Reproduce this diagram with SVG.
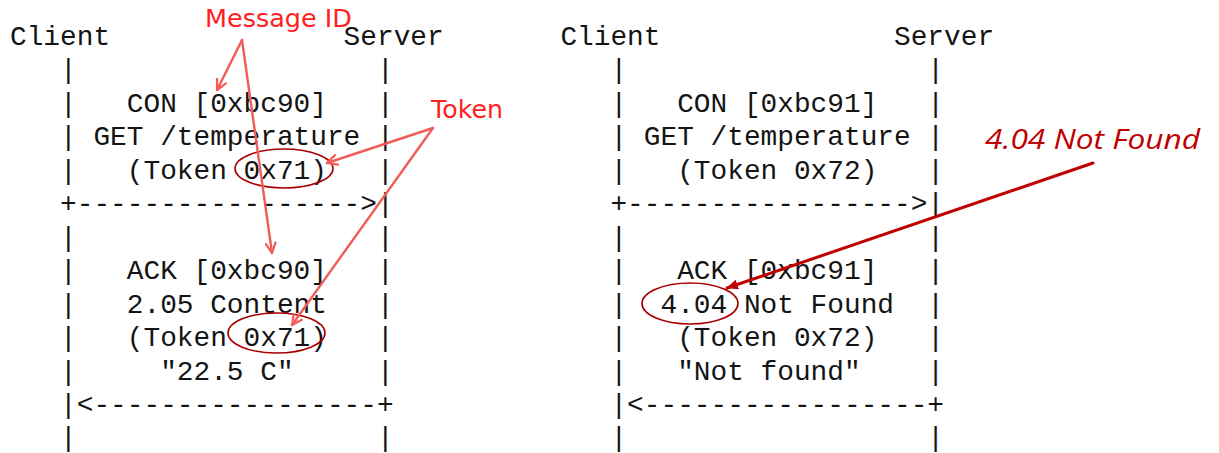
<svg xmlns="http://www.w3.org/2000/svg" width="1219" height="453" viewBox="0 0 1219 453">
<style>
  .mono { font-family: "Liberation Mono", "Courier New", monospace; font-size: 27.8px; fill: #141414; white-space: pre; }
  .note { font-family: "DejaVu Sans", Verdana, sans-serif; font-size: 24px; fill: #ff2020; }
  .hand { font-family: "Open Sans", "Noto Sans", sans-serif; font-style: italic; font-size: 27px; fill: #c00000; }
  .ptr { stroke: #f25c58; stroke-width: 2.4; fill: none; stroke-linecap: round; }
  .ptr2 { stroke: #c00000; stroke-width: 3; fill: none; stroke-linecap: round; }
  .ring { stroke: #a80000; stroke-width: 1.6; fill: none; }
</style>
<defs>
  <marker id="vhead" viewBox="0 0 12 12" refX="11" refY="6" markerWidth="12" markerHeight="12" markerUnits="userSpaceOnUse" orient="auto">
    <path d="M1,1 L11,6 L1,11" fill="none" stroke="#f25c58" stroke-width="2.2" stroke-linecap="round" stroke-linejoin="round"/>
  </marker>
  <marker id="dhead" viewBox="0 0 12 10" refX="11" refY="5" markerWidth="12" markerHeight="10" markerUnits="userSpaceOnUse" orient="auto">
    <path d="M0,0 L12,5 L0,10 Z" fill="#c00000"/>
  </marker>
</defs>
<rect width="1219" height="453" fill="#ffffff"/>

<g id="exchange-1">
  <text class="mono" xml:space="preserve" x="10" y="45">Client              Server</text>
  <text class="mono" xml:space="preserve" x="10" y="78.45">   |                  |</text>
  <text class="mono" xml:space="preserve" x="10" y="111.9">   |   CON [0xbc90]   |</text>
  <text class="mono" xml:space="preserve" x="10" y="145.35">   | GET /temperature |</text>
  <text class="mono" xml:space="preserve" x="10" y="178.8">   |   (Token 0x71)   |</text>
  <text class="mono" xml:space="preserve" x="10" y="212.25">   +-----------------&gt;|</text>
  <text class="mono" xml:space="preserve" x="10" y="245.7">   |                  |</text>
  <text class="mono" xml:space="preserve" x="10" y="279.15">   |   ACK [0xbc90]   |</text>
  <text class="mono" xml:space="preserve" x="10" y="312.6">   |   2.05 Content   |</text>
  <text class="mono" xml:space="preserve" x="10" y="346.05">   |   (Token 0x71)   |</text>
  <text class="mono" xml:space="preserve" x="10" y="379.5">   |     "22.5 C"     |</text>
  <text class="mono" xml:space="preserve" x="10" y="412.95">   |&lt;-----------------+</text>
  <text class="mono" xml:space="preserve" x="10" y="446.4">   |                  |</text>
</g>

<g id="exchange-2">
  <text class="mono" xml:space="preserve" x="560.4" y="45">Client              Server</text>
  <text class="mono" xml:space="preserve" x="560.4" y="78.45">   |                  |</text>
  <text class="mono" xml:space="preserve" x="560.4" y="111.9">   |   CON [0xbc91]   |</text>
  <text class="mono" xml:space="preserve" x="560.4" y="145.35">   | GET /temperature |</text>
  <text class="mono" xml:space="preserve" x="560.4" y="178.8">   |   (Token 0x72)   |</text>
  <text class="mono" xml:space="preserve" x="560.4" y="212.25">   +-----------------&gt;|</text>
  <text class="mono" xml:space="preserve" x="560.4" y="245.7">   |                  |</text>
  <text class="mono" xml:space="preserve" x="560.4" y="279.15">   |   ACK [0xbc91]   |</text>
  <text class="mono" xml:space="preserve" x="560.4" y="312.6">   |  4.04 Not Found  |</text>
  <text class="mono" xml:space="preserve" x="560.4" y="346.05">   |   (Token 0x72)   |</text>
  <text class="mono" xml:space="preserve" x="560.4" y="379.5">   |   "Not found"    |</text>
  <text class="mono" xml:space="preserve" x="560.4" y="412.95">   |&lt;-----------------+</text>
  <text class="mono" xml:space="preserve" x="560.4" y="446.4">   |                  |</text>
</g>

<g id="highlights">
  <ellipse class="ring" cx="284" cy="168.5" rx="49" ry="19.5"/>
  <ellipse class="ring" cx="276.5" cy="333" rx="48.5" ry="20"/>
  <ellipse class="ring" cx="690" cy="303.5" rx="48" ry="20.5"/>
</g>

<g id="label-message-id">
  <text class="note" x="205" y="27" textLength="147" lengthAdjust="spacingAndGlyphs">Message ID</text>
</g>
<g id="label-token">
  <text class="note" x="431" y="118" textLength="72" lengthAdjust="spacingAndGlyphs">Token</text>
</g>
<g id="label-not-found">
  <text class="hand" x="985" y="149" textLength="215" lengthAdjust="spacingAndGlyphs">4.04 Not Found</text>
</g>

<g id="connectors">
  <line class="ptr" x1="242" y1="40" x2="217" y2="90" marker-end="url(#vhead)"/>
  <line class="ptr" x1="242" y1="40" x2="272" y2="253" marker-end="url(#vhead)"/>
  <line class="ptr" x1="433" y1="128" x2="327" y2="163" marker-end="url(#vhead)"/>
  <line class="ptr" x1="433" y1="128" x2="292" y2="325" marker-end="url(#vhead)"/>
  <line class="ptr2" x1="1093" y1="163" x2="727" y2="288" marker-end="url(#dhead)"/>
</g>
</svg>
